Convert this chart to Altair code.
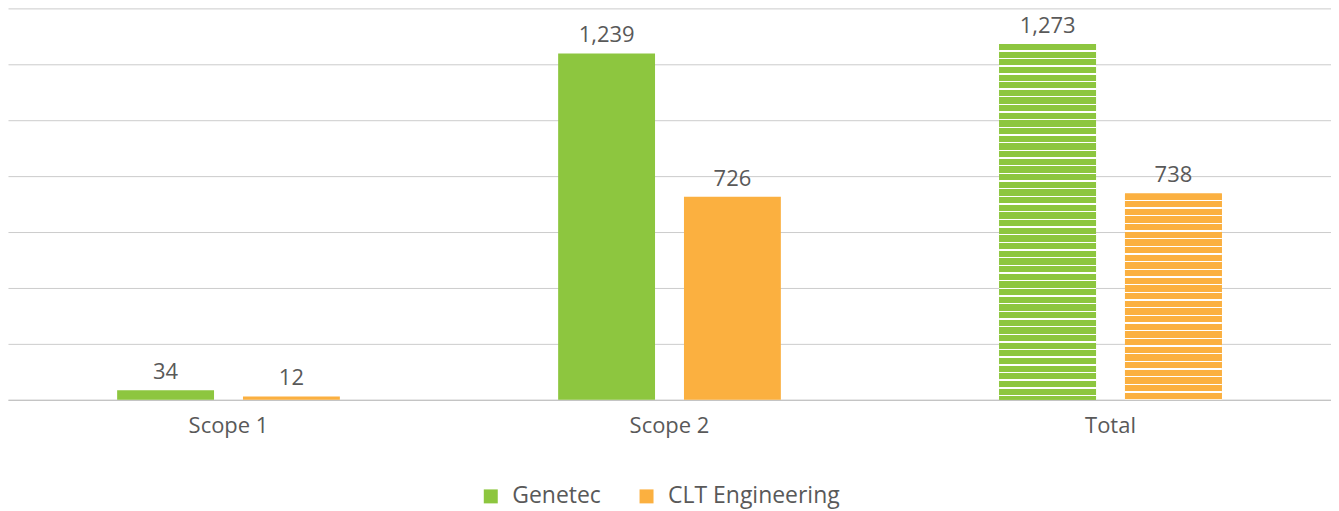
import altair as alt
import pandas as pd

categories = ["Scope 1", "Scope 2", "Total"]
series = ["Genetec", "CLT Engineering"]
genetec = [34, 1239, 1273]
clt = [12, 726, 738]
colors = ["#8DC63F", "#FBB040"]

rows = []
for i, c in enumerate(categories):
    rows.append({"Category": c, "Series": series[0], "Value": genetec[i]})
    rows.append({"Category": c, "Series": series[1], "Value": clt[i]})
df = pd.DataFrame(rows)

W, H = 1325, 392
YMAX = 1400


def stripes(base, value, pitch=7.67, white=1.4):
    h = value / YMAX * H
    stops = []
    k = 0
    while True:
        a = (k * pitch + pitch - white) / h
        b = (k * pitch + pitch) / h
        if a >= 1:
            break
        b = min(b, 1.0)
        stops += [
            {"offset": a, "color": base},
            {"offset": a, "color": "#ffffff"},
            {"offset": b, "color": "#ffffff"},
            {"offset": b, "color": base},
        ]
        k += 1
    return {"gradient": "linear", "x1": 0, "y1": 0, "x2": 0, "y2": 1,
            "stops": [{"offset": 0, "color": base}] + stops + [{"offset": 1, "color": base}]}


font = "Open Sans"
x = alt.X("Category:N", sort=categories, title=None,
          scale=alt.Scale(paddingInner=0.495, paddingOuter=0.2475),
          axis=alt.Axis(labelAngle=0, ticks=False, domainColor="#bfbfbf",
                        labelFontSize=22, labelColor="#595959", labelFont=font,
                        labelPadding=16, grid=False))
xo = alt.XOffset("Series:N", sort=series,
                 scale=alt.Scale(domain=series, paddingInner=0.23, paddingOuter=0))
y = alt.Y("Value:Q", title=None,
          scale=alt.Scale(domain=[0, YMAX], nice=False),
          axis=alt.Axis(values=list(range(0, 1401, 200)), labels=False, ticks=False,
                        domain=False, gridColor="#cccccc", gridWidth=1))

base = alt.Chart(df).encode(x=x, xOffset=xo, y=y)

bars = base.mark_bar().encode(
    color=alt.Color("Series:N", sort=series,
                    scale=alt.Scale(domain=series, range=colors),
                    legend=alt.Legend(title=None, orient="none", direction="horizontal",
                                      legendX=472, legendY=477,
                                      symbolType="square", symbolSize=196,
                                      labelFontSize=23, labelColor="#595959", labelFont=font,
                                      labelLimit=400, labelOffset=10,
                                      columnPadding=34, symbolStrokeWidth=0))
)

over_g = base.mark_bar(fill=stripes(colors[0], genetec[2])).transform_filter(
    (alt.datum.Category == "Total") & (alt.datum.Series == series[0]))
over_c = base.mark_bar(fill=stripes(colors[1], clt[2])).transform_filter(
    (alt.datum.Category == "Total") & (alt.datum.Series == series[1]))

labels = base.mark_text(baseline="bottom", dy=-6, fontSize=22, color="#595959",
                        font=font).encode(text=alt.Text("Value:Q", format=","))

chart = alt.layer(bars, over_g, over_c, labels).properties(
    width=W, height=H, padding={"left": 0, "top": 0, "right": 0, "bottom": 0}
).configure_view(stroke=None).configure_axis(domainWidth=1)

chart.save("out.html", embed_options={"renderer": "svg", "actions": False})
